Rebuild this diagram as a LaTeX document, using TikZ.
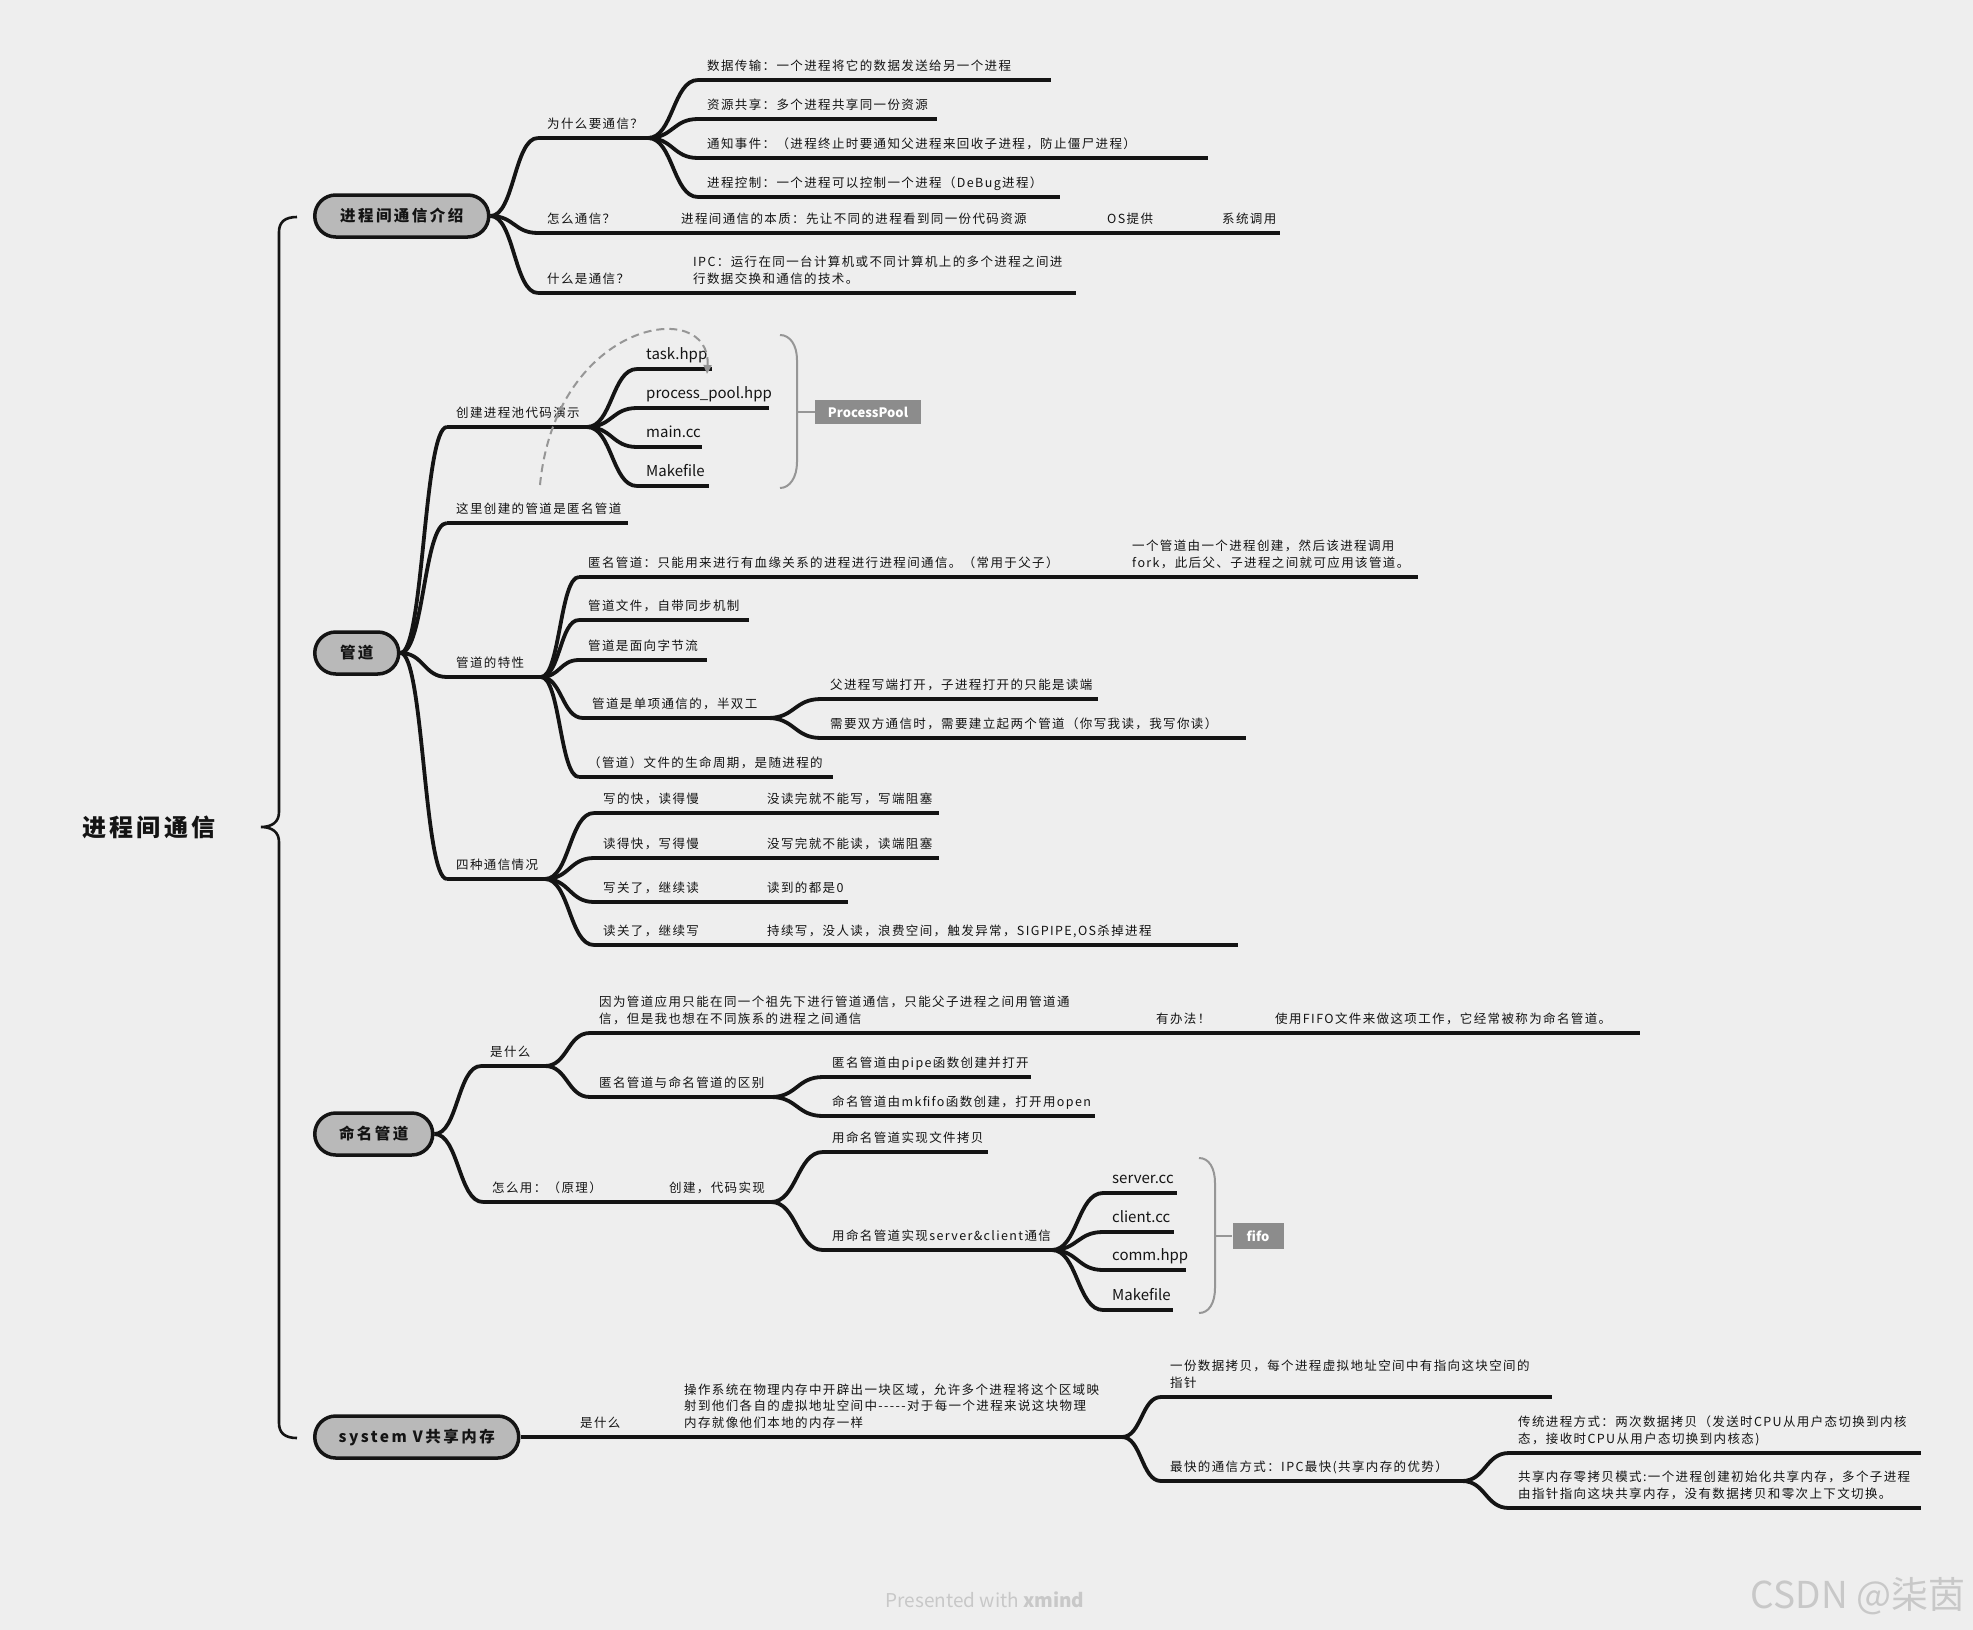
\documentclass[tikz,border=0pt]{standalone}
\usepackage{fontspec}
\setmainfont{Noto Sans CJK SC}
\newfontfamily\fsm[LetterSpace=11]{Noto Sans CJK SC}
\newfontfamily\ftp[LetterSpace=16]{Noto Sans CJK SC}
\newfontfamily\frt[LetterSpace=14]{Noto Sans CJK SC}
\usetikzlibrary{calc,arrows.meta,shapes.misc}
\definecolor{bgc}{RGB}{238,238,238}
\definecolor{topicfill}{RGB}{185,185,185}
\definecolor{lblfill}{RGB}{140,140,140}
\definecolor{brkc}{RGB}{150,150,150}
\definecolor{wmc}{RGB}{200,200,200}
\definecolor{inkc}{RGB}{20,20,20}
\newcommand\ml[1]{\begin{tabular}[b]{@{}l@{}}#1\end{tabular}}
\newcommand\leaf[6][lf]{%
  \coordinate (#2s) at (#3,#4);
  \coordinate (#2e) at (#5,#4);
  \node[#1] (#2) at ({#3+9},{#4-10}) {#6};
  \draw[ul] (#2s) -- (#2e);}
\tikzset{
  ul/.style={line width=3.8pt, draw=inkc},
  br/.style={ul, to path={let \p1=(\tikztostart), \p2=(\tikztotarget), \n1={0.5*(\x2-\x1)} in .. controls +(\n1,0) and +(-\n1,0) .. (\tikztotarget) \tikztonodes}},
  lf/.style={anchor=base west, inner sep=0pt, text=inkc, font=\fsm\fontsize{12.5}{16.5}\selectfont},
  fl/.style={anchor=base west, inner sep=0pt, text=inkc, font=\fontsize{15}{18}\selectfont},
  topic/.style={rounded rectangle, draw=inkc, line width=3.5pt, fill=topicfill, minimum height=42pt, inner xsep=0pt, anchor=west, text=inkc, font=\ftp\bfseries\fontsize{15.5}{18}\selectfont},
  lbl/.style={fill=lblfill, text=white, font=\bfseries\fontsize{13}{15}\selectfont, inner sep=0pt},
  brk/.style={draw=brkc, line width=2pt},
  dsh/.style={draw=brkc, line width=2pt, dash pattern=on 8pt off 5pt, -{Triangle[length=9pt,width=8pt]}},
}
\begin{document}
\begin{tikzpicture}[x=1pt,y=-1pt]
\useasboundingbox (0,0) rectangle (1973,1630);
\fill[bgc] (0,0) rectangle (1973,1630);

% root
\node[font=\frt\bfseries\fontsize{24}{28}\selectfont, text=inkc] (root) at (149,827) {进程间通信};
\draw[line width=2.6pt, draw=inkc] (297,217) .. controls (285,217) and (279,222) .. (279,232) -- (279,812) .. controls (279,822) and (272,827) .. (261,827) .. controls (272,827) and (279,832) .. (279,842) -- (279,1423) .. controls (279,1433) and (285,1438) .. (297,1438);

% topics
\node[topic, minimum width=174pt] (t1) at (313,216) {进程间通信介绍};
\node[topic, minimum width=84pt] (t2) at (313,653) {管道};
\node[topic, minimum width=118pt] (t3) at (313,1134) {命名管道};
\node[topic, minimum width=204pt] (t4) at (313,1437) {system V共享内存};

% ---------- topic 1
\leaf{a1}{538}{138}{648}{为什么要通信？}
\leaf{a11}{698}{80}{1051}{数据传输：一个进程将它的数据发送给另一个进程}
\leaf{a12}{698}{119}{937}{资源共享：多个进程共享同一份资源}
\leaf{a13}{698}{158}{1208}{通知事件：（进程终止时要通知父进程来回收子进程，防止僵尸进程）}
\leaf{a14}{698}{197}{1060}{进程控制：一个进程可以控制一个进程（DeBug进程）}
\leaf{a2}{538}{233}{621}{怎么通信？}
\leaf{a21}{672}{233}{1048}{进程间通信的本质：先让不同的进程看到同一份代码资源}
\leaf{a22}{1098}{233}{1160}{OS提供}
\leaf{a23}{1213}{233}{1280}{系统调用}
\leaf{a3}{538}{293}{635}{什么是通信？}
\leaf{a31}{684}{293}{1076}{\ml{IPC：运行在同一台计算机或不同计算机上的多个进程之间进\\行数据交换和通信的技术。}}
\draw[br] (t1.east) to (a1s);
\draw[br] (t1.east) to (a2s);
\draw[br] (t1.east) to (a3s);
\draw[br] (a1e) to (a11s);
\draw[br] (a1e) to (a12s);
\draw[br] (a1e) to (a13s);
\draw[br] (a1e) to (a14s);
\draw[ul] (a2e) -- (a21s);
\draw[ul] (a21e) -- (a22s);
\draw[ul] (a22e) -- (a23s);
\draw[ul] (a3e) -- (a31s);

% ---------- topic 2
\leaf{b1}{447}{427}{587}{创建进程池代码演示}
\leaf[fl]{b11}{637}{369}{712}{task.hpp}
\leaf[fl]{b12}{637}{408}{769}{process\_pool.hpp}
\leaf[fl]{b13}{637}{447}{702}{main.cc}
\leaf[fl]{b14}{637}{486}{709}{Makefile}
\leaf{b2}{447}{523}{628}{这里创建的管道是匿名管道}
\leaf{b3}{447}{677}{541}{管道的特性}
\leaf{b31}{579}{577}{1073}{匿名管道：只能用来进行有血缘关系的进程进行进程间通信。（常用于父子）}
\leaf{b32}{1123}{577}{1418}{\ml{一个管道由一个进程创建，然后该进程调用\\fork，此后父、子进程之间就可应用该管道。}}
\leaf{b33}{579}{620}{749}{管道文件，自带同步机制}
\leaf{b34}{579}{660}{707}{管道是面向字节流}
\leaf{b35}{583}{718}{768}{管道是单项通信的，半双工}
\leaf{b351}{821}{699}{1098}{父进程写端打开，子进程打开的只能是读端}
\leaf{b352}{821}{738}{1246}{需要双方通信时，需要建立起两个管道（你写我读，我写你读）}
\leaf{b36}{579}{777}{833}{（管道）文件的生命周期，是随进程的}
\leaf{b4}{447}{879}{545}{四种通信情况}
\leaf{b41}{594}{813}{707}{写的快，读得慢}
\leaf{b41r}{758}{813}{939}{没读完就不能写，写端阻塞}
\leaf{b42}{594}{858}{707}{读得快，写得慢}
\leaf{b42r}{758}{858}{939}{没写完就不能读，读端阻塞}
\leaf{b43}{594}{902}{707}{写关了，继续读}
\leaf{b43r}{758}{902}{848}{读到的都是0}
\leaf{b44}{594}{945}{707}{读关了，继续写}
\leaf{b44r}{758}{945}{1238}{持续写，没人读，浪费空间，触发异常，SIGPIPE,OS杀掉进程}
\draw[br] (t2.east) to (b1s);
\draw[br] (t2.east) to (b2s);
\draw[br] (t2.east) to (b3s);
\draw[br] (t2.east) to (b4s);
\draw[br] (b1e) to (b11s);
\draw[br] (b1e) to (b12s);
\draw[br] (b1e) to (b13s);
\draw[br] (b1e) to (b14s);
\draw[br] (b3e) to (b31s);
\draw[br] (b3e) to (b33s);
\draw[br] (b3e) to (b34s);
\draw[br] (b3e) to (b35s);
\draw[br] (b3e) to (b36s);
\draw[ul] (b31e) -- (b32s);
\draw[br] (b35e) to (b351s);
\draw[br] (b35e) to (b352s);
\draw[br] (b4e) to (b41s);
\draw[br] (b4e) to (b42s);
\draw[br] (b4e) to (b43s);
\draw[br] (b4e) to (b44s);
\draw[ul] (b41e) -- (b41rs);
\draw[ul] (b42e) -- (b42rs);
\draw[ul] (b43e) -- (b43rs);
\draw[ul] (b44e) -- (b44rs);
% ProcessPool summary
\node[lbl, minimum width=106pt, minimum height=24pt] (pp) at (868,412) {ProcessPool};
\draw[brk] (780,335) .. controls (790,335) and (797,345) .. (797,360) -- (797,462) .. controls (797,477) and (790,488) .. (780,488);
\coordinate (ppt) at (797,412);
\draw[brk] (ppt) -- (pp.west);
% dashed relation
\coordinate (dS) at (540,485);
\coordinate (dE) at (707,374);
\draw[dsh] (dS) .. controls (556,320) and (712,296) .. (dE);

% ---------- topic 3
\leaf{c1}{481}{1066}{545}{是什么}
\leaf{c11}{590}{1033}{1097}{\ml{因为管道应用只能在同一个祖先下进行管道通信，只能父子进程之间用管道通\\信，但是我也想在不同族系的进程之间通信}}
\leaf{c12}{1147}{1033}{1215}{有办法！}
\leaf{c13}{1266}{1033}{1640}{使用FIFO文件来做这项工作，它经常被称为命名管道。}
\leaf{c14}{590}{1097}{771}{匿名管道与命名管道的区别}
\leaf{c141}{823}{1077}{1031}{匿名管道由pipe函数创建并打开}
\leaf{c142}{823}{1116}{1095}{命名管道由mkfifo函数创建，打开用open}
\leaf{c2}{483}{1202}{608}{怎么用：（原理）}
\leaf{c21}{660}{1202}{771}{创建，代码实现}
\leaf{c211}{823}{1152}{988}{用命名管道实现文件拷贝}
\leaf{c212}{823}{1250}{1052}{用命名管道实现server\&client通信}
\leaf[fl]{c2121}{1103}{1193}{1177}{server.cc}
\leaf[fl]{c2122}{1103}{1232}{1174}{client.cc}
\leaf[fl]{c2123}{1103}{1270}{1186}{comm.hpp}
\leaf[fl]{c2124}{1103}{1310}{1173}{Makefile}
\draw[br] (t3.east) to (c1s);
\draw[br] (t3.east) to (c2s);
\draw[br] (c1e) to (c11s);
\draw[br] (c1e) to (c14s);
\draw[ul] (c11e) -- (c12s);
\draw[ul] (c12e) -- (c13s);
\draw[br] (c14e) to (c141s);
\draw[br] (c14e) to (c142s);
\draw[ul] (c2e) -- (c21s);
\draw[br] (c21e) to (c211s);
\draw[br] (c21e) to (c212s);
\draw[br] (c212e) to (c2121s);
\draw[br] (c212e) to (c2122s);
\draw[br] (c212e) to (c2123s);
\draw[br] (c212e) to (c2124s);
% fifo summary
\node[lbl, minimum width=51pt, minimum height=26pt] (ff) at (1258,1236) {fifo};
\draw[brk] (1199,1158) .. controls (1209,1158) and (1215,1168) .. (1215,1183) -- (1215,1288) .. controls (1215,1303) and (1209,1313) .. (1199,1313);
\coordinate (fft) at (1215,1236);
\draw[brk] (fft) -- (ff.west);

% ---------- topic 4
\leaf{d1}{571}{1437}{625}{是什么}
\leaf{d11}{675}{1437}{1122}{\ml{操作系统在物理内存中开辟出一块区域，允许多个进程将这个区域映\\射到他们各自的虚拟地址空间中-----对于每一个进程来说这块物理\\内存就像他们本地的内存一样}}
\leaf{d111}{1161}{1397}{1552}{\ml{一份数据拷贝，每个进程虚拟地址空间中有指向这块空间的\\指针}}
\leaf{d112}{1161}{1481}{1462}{最快的通信方式：IPC最快(共享内存的优势）}
\leaf{d1121}{1509}{1453}{1921}{\ml{传统进程方式：两次数据拷贝（发送时CPU从用户态切换到内核\\态，接收时CPU从用户态切换到内核态)}}
\leaf{d1122}{1509}{1508}{1921}{\ml{共享内存零拷贝模式:一个进程创建初始化共享内存，多个子进程\\由指针指向这块共享内存，没有数据拷贝和零次上下文切换。}}
\draw[ul] (t4.east) -- (d1s);
\draw[ul] (d1e) -- (d11s);
\draw[br] (d11e) to (d111s);
\draw[br] (d11e) to (d112s);
\draw[br] (d112e) to (d1121s);
\draw[br] (d112e) to (d1122s);

% watermarks
\node[font=\fontsize{19}{22}\selectfont, text=wmc] (wm) at (985,1600) {Presented with \textbf{xmind}};
\node[font=\fontsize{37}{40}\selectfont, text=wmc] (csdn) at (1858,1596) {CSDN @柒茵};
\end{tikzpicture}
\end{document}
